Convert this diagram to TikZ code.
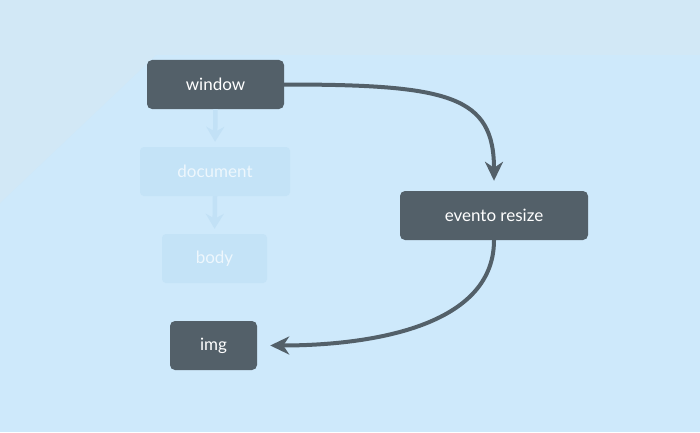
\documentclass[tikz,border=0pt]{standalone}
\usepackage{fontspec}
\setmainfont{Lato}
\usetikzlibrary{arrows.meta}
\definecolor{bgmain}{HTML}{CEE9FB}
\definecolor{bgtop}{HTML}{D2E8F6}
\definecolor{boxdark}{HTML}{536069}
\definecolor{boxfade}{HTML}{C4E3F7}
\definecolor{arrowfade}{HTML}{C2E1F6}
\definecolor{textfade}{HTML}{EEF7FD}
\tikzset{
  darkbox/.style={fill=boxdark, rounded corners=5pt, inner sep=0pt, text=white, font=\fontsize{17}{20}\selectfont},
  fadebox/.style={fill=boxfade, rounded corners=4pt, inner sep=0pt, text=textfade, font=\fontsize{17}{20}\selectfont},
  mainarrow/.style={draw=boxdark, line width=4pt, -{Stealth[length=19pt,width=18pt,inset=6pt]}},
  fadearrow/.style={draw=arrowfade, line width=4.5pt, -{Stealth[length=15pt,width=18pt,inset=5pt]}}
}
\begin{document}
\begin{tikzpicture}[x=1pt,y=1pt]
\useasboundingbox (0,0) rectangle (700,432);
\fill[bgmain] (0,0) rectangle (700,432);
\fill[bgtop] (0,432) -- (700,432) -- (700,377) -- (156,377) -- (0,229) -- cycle;

\node[darkbox, minimum width=137pt, minimum height=49pt] (window) at (215.5,347.5) {window};
\node[fadebox, minimum width=150pt, minimum height=49pt] (document) at (215,260.5) {document};
\node[fadebox, minimum width=105pt, minimum height=49pt] (body) at (214.5,173.5) {body};
\node[darkbox, minimum width=188pt, minimum height=49pt] (resize) at (494,216.5) {evento resize};
\node[darkbox, minimum width=87pt, minimum height=49pt] (img) at (213.5,86.5) {img};

\draw[fadearrow, shorten >=5pt] (window.south) -- (document.north);
\draw[fadearrow, shorten >=5pt] (document.south) -- (body.north);

\draw[mainarrow] (window.east) .. controls +(165pt,0) and +(0,85pt) .. ([yshift=10pt]resize.north);
\draw[mainarrow] (resize.south) .. controls +(0,-90pt) and +(90pt,0) .. ([xshift=13pt]img.east);
\end{tikzpicture}
\end{document}
